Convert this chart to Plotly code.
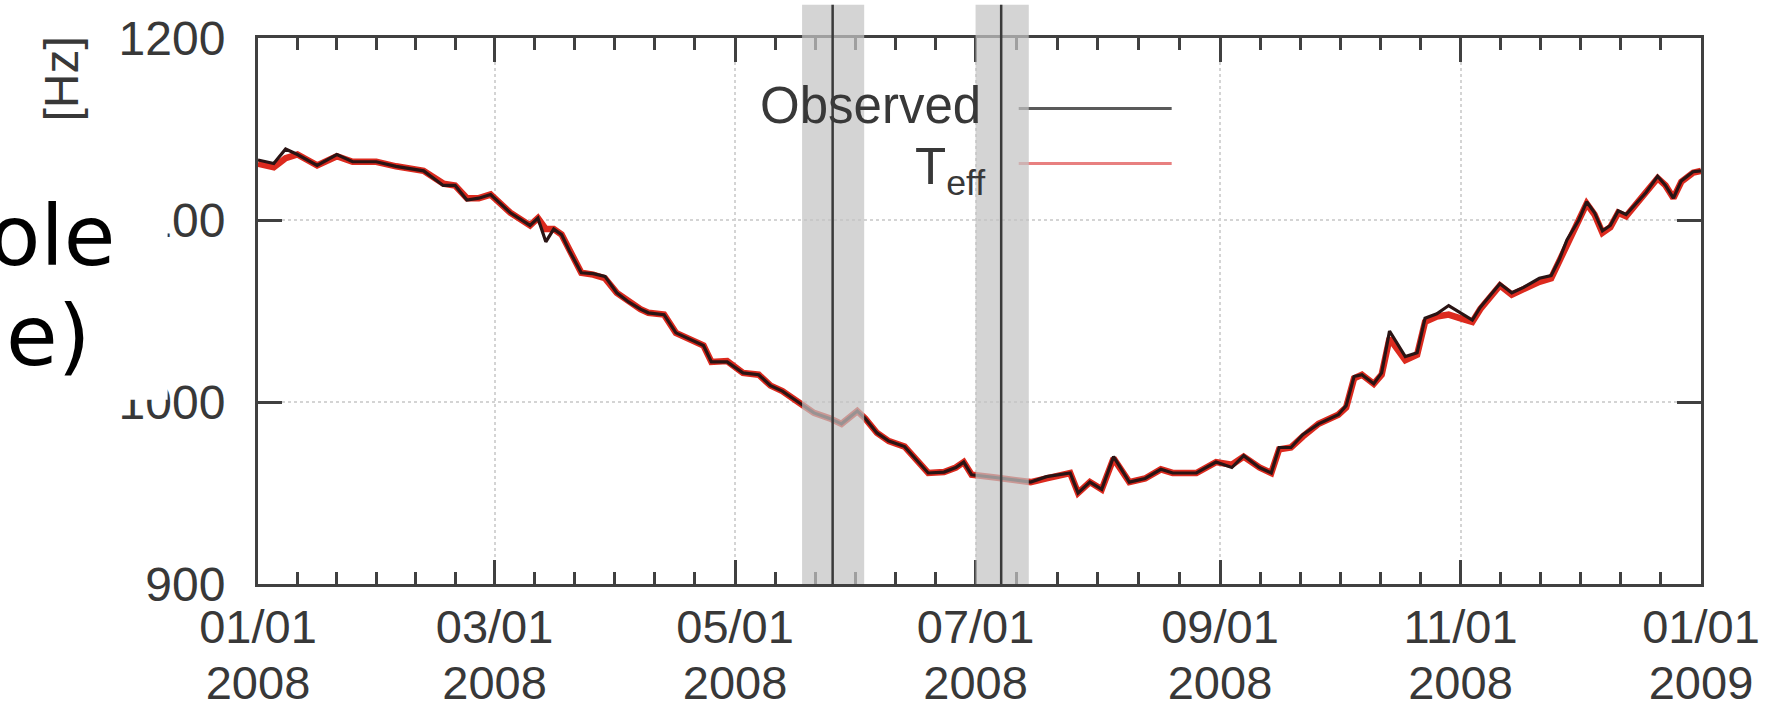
import pandas as pd
import plotly.graph_objects as go

# ---------------- data ----------------
day_offset = [0, 4, 7, 10, 15, 20, 24, 30, 35, 42, 47, 50, 53, 56, 59, 64, 69, 71, 73, 75,
              77, 79, 82, 85, 88, 91, 94, 97, 99, 103, 106, 110, 113, 115, 119, 123, 127, 130,
              133, 137, 141, 145, 148, 152, 154, 157, 160, 164, 166, 170, 174, 177, 179, 181,
              187, 196, 200, 204, 206, 208, 211, 214, 217, 221, 225, 229, 232, 238, 243, 247,
              250, 254, 257, 259, 262, 265, 269, 274, 276, 278, 280, 283, 285, 287, 291, 294,
              296, 299, 302, 305, 308, 310, 315, 318, 321, 325, 328, 330, 332, 335, 337, 339,
              341, 343, 345, 347, 350, 352, 355, 357, 359, 361, 364, 366]

observed = [1133, 1131, 1139, 1136, 1130, 1136, 1132, 1132, 1129.5, 1127, 1119, 1119, 1111, 1112,
            1114, 1104, 1097, 1101, 1088, 1095, 1092, 1083, 1071, 1070.5, 1069, 1060, 1055, 1051,
            1049, 1048, 1038, 1034, 1031, 1022, 1022, 1016, 1015, 1009, 1006, 1000, 994, 991, 988,
            995, 991, 983, 978.5, 975.5, 970.5, 961, 961.5, 964, 967, 960, 958.5, 956, 959, 960.5,
            961, 950, 956, 952, 970, 956, 958, 963, 961, 961, 967, 964, 970.5, 964, 961, 975, 975,
            982, 988, 993, 998, 1014, 1015, 1010, 1016, 1039, 1025, 1027, 1046, 1048.5, 1053, 1049,
            1045, 1052, 1065, 1060, 1063, 1068, 1069.5, 1078, 1089, 1100, 1110, 1104, 1094, 1097,
            1105, 1103, 1110, 1115, 1124, 1119, 1112, 1121.5, 1126.5, 1127]

t_eff = [1131, 1129, 1134, 1136, 1130, 1135, 1132, 1132, 1129.5, 1127, 1120, 1119, 1112, 1112,
         1114, 1104, 1097, 1101, 1095, 1095, 1092, 1083, 1071, 1070, 1068, 1060, 1055, 1051,
         1049, 1048, 1038, 1034, 1031, 1022, 1022.5, 1016, 1015, 1009, 1006, 1000, 994, 991, 988,
         995, 991, 983, 978.5, 975.5, 970.5, 961, 961.5, 964, 967, 960, 958.5, 956, 958, 960,
         961, 950, 956, 952, 969, 956, 958, 963, 961, 961, 967, 965.5, 970, 964, 961, 974, 975,
         981, 988, 993, 997, 1013, 1015, 1010, 1015, 1035, 1023, 1026, 1044, 1047, 1048, 1046,
         1044, 1051, 1064, 1059, 1062, 1066, 1068, 1077, 1087, 1099, 1109, 1103, 1093, 1096,
         1104, 1102, 1110, 1114, 1123, 1119, 1112, 1121, 1126, 1127]

major_tick_dates = ["2008-01-01", "2008-03-01", "2008-05-01", "2008-07-01",
                    "2008-09-01", "2008-11-01", "2009-01-01"]
tick_md = ["01/01", "03/01", "05/01", "07/01", "09/01", "11/01", "01/01"]
tick_year = ["2008", "2008", "2008", "2008", "2008", "2008", "2009"]
y_ticks = [900, 1000, 1100, 1200]

band_starts = ["2008-05-18 00:00", "2008-07-01 00:00"]
band_ends = ["2008-06-02 18:00", "2008-07-14 12:00"]
event_dates = ["2008-05-25 18:00", "2008-07-07 12:00"]

series_names = ["Observed", "T<sub>eff</sub>"]

# ---------------- geometry ----------------
W, H = 1772, 721
PL, PR, PT, PB = 258, 1711, 34, 591   # plot area in pixels


def px(xp):
    return (xp - PL) / (PR - PL)


def py(yp):
    return (PB - yp) / (PB - PT)


start = pd.Timestamp("2008-01-01")
dates = [start + pd.Timedelta(days=d) for d in day_offset]
majors = pd.to_datetime(major_tick_dates)
minor_vals = []
for a, b in zip(majors[:-1], majors[1:]):
    for k in range(1, 6):
        minor_vals.append(a + (b - a) * k / 6)

AX = "#404040"
TXT = "#383838"
FONT = "Liberation Sans, Arial, sans-serif"

fig = go.Figure()
fig.add_trace(go.Scatter(x=dates, y=t_eff, mode="lines", name="T_eff",
                         line=dict(color="#dc2a1e", width=6.5), showlegend=False))
fig.add_trace(go.Scatter(x=dates, y=observed, mode="lines", name="Observed",
                         line=dict(color="#2a1414", width=3.2), showlegend=False))
# invisible trace carrying the second (year) label axis
fig.add_trace(go.Scatter(x=[dates[0]], y=[observed[0]], xaxis="x2", mode="markers",
                         marker=dict(opacity=0), showlegend=False, hoverinfo="skip"))

shapes = []
for s, e in zip(band_starts, band_ends):
    shapes.append(dict(type="rect", xref="x", yref="paper", x0=s, x1=e, y0=0, y1=py(0),
                       fillcolor="#c4c4c4", opacity=0.72, line=dict(width=0), layer="above"))
for d in event_dates:
    shapes.append(dict(type="line", xref="x", yref="paper", x0=d, x1=d, y0=0, y1=py(0),
                       line=dict(color="#3a3a3a", width=2.5), layer="above"))
# legend sample lines
shapes.append(dict(type="line", xref="paper", yref="paper", x0=px(1024), x1=px(1178),
                   y0=py(106), y1=py(106), line=dict(color="#5a5a5a", width=3), layer="below"))
shapes.append(dict(type="line", xref="paper", yref="paper", x0=px(1024), x1=px(1178),
                   y0=py(162), y1=py(162), line=dict(color="#e88080", width=3), layer="below"))
# white overlay box from the slide
shapes.append(dict(type="rect", xref="paper", yref="paper", x0=px(0), x1=px(167),
                   y0=py(403), y1=py(140), fillcolor="white", line=dict(width=0), layer="above"))

annotations = [
    dict(text="[Hz]", xref="paper", yref="paper", x=px(60), y=py(76), showarrow=False,
         textangle=-90, font=dict(family=FONT, size=48, color=TXT), xanchor="center", yanchor="middle"),
    dict(text=series_names[0], xref="paper", yref="paper", x=px(988), y=py(103), showarrow=False,
         font=dict(family=FONT, size=51, color=TXT), xanchor="right", yanchor="middle"),
    dict(text=series_names[1], xref="paper", yref="paper", x=px(992), y=py(169), showarrow=False,
         font=dict(family=FONT, size=51, color=TXT), xanchor="right", yanchor="middle"),
    dict(text="ole", xref="paper", yref="paper", x=px(116), y=py(236), showarrow=False,
         font=dict(family="DejaVu Sans", size=84, color="black"), xanchor="right", yanchor="middle"),
    dict(text="e)", xref="paper", yref="paper", x=px(2), y=py(338), showarrow=False,
         font=dict(family="DejaVu Sans", size=84, color="black"), xanchor="left", yanchor="middle"),
]

fig.update_layout(
    width=W, height=H,
    margin=dict(l=PL, r=W - PR, t=PT, b=H - PB, pad=0),
    paper_bgcolor="white", plot_bgcolor="white",
    shapes=shapes, annotations=annotations, showlegend=False,
    xaxis=dict(
        type="date", range=[major_tick_dates[0], major_tick_dates[-1]],
        tickmode="array", tickvals=major_tick_dates, ticktext=tick_md,
        ticks="inside", ticklen=24, tickwidth=2.5, tickcolor=AX,
        showline=True, linecolor=AX, linewidth=3, mirror="ticks",
        showgrid=True, gridcolor="#d4d4d4", gridwidth=1.5, griddash="dot",
        tickfont=dict(family=FONT, size=47, color=TXT), ticklabelstandoff=0,
        zeroline=False,
        minor=dict(tickmode="array", tickvals=minor_vals, ticks="inside", ticklen=12,
                   tickwidth=2.5, tickcolor=AX, showgrid=False),
    ),
    xaxis2=dict(
        type="date", overlaying="x", matches="x", side="bottom", anchor="y",
        range=[major_tick_dates[0], major_tick_dates[-1]],
        tickmode="array", tickvals=major_tick_dates, ticktext=tick_year,
        ticks="", showline=False, showgrid=False, zeroline=False,
        tickfont=dict(family=FONT, size=47, color=TXT), ticklabelstandoff=67,
    ),
    yaxis=dict(
        range=[900, 1200], tickmode="array", tickvals=y_ticks,
        ticks="inside", ticklen=24, tickwidth=2.5, tickcolor=AX,
        showline=True, linecolor=AX, linewidth=3, mirror="ticks",
        showgrid=True, gridcolor="#d4d4d4", gridwidth=1.5, griddash="dot",
        tickfont=dict(family=FONT, size=48, color=TXT), ticklabelstandoff=20,
        zeroline=False,
    ),
)

fig.write_html("out.html")
